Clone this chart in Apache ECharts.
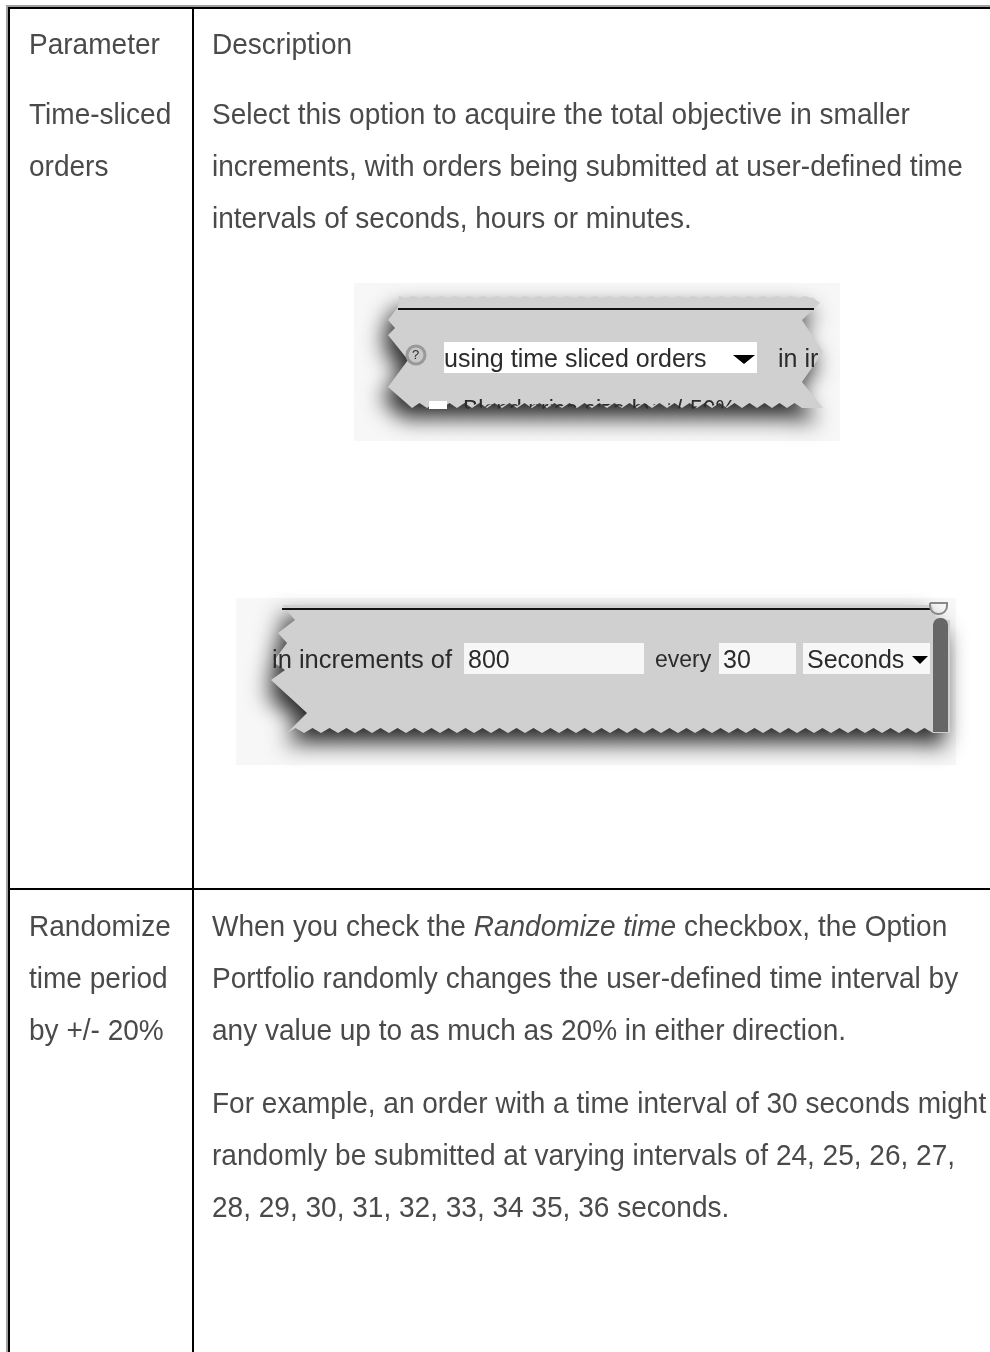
<!DOCTYPE html>
<html>
<head>
<meta charset="utf-8">
<style>
  html, body { margin: 0; padding: 0; background: #fff; }
  #main { width: 990px; height: 1352px; }
</style>
<script src="https://cdn.jsdelivr.net/npm/echarts@6/dist/echarts.min.js"></script>
</head>
<body>
<div id="main"></div>
<script>
const headerCells = ["Parameter", "Description"];
const timeSlicedLabel = ["Time-sliced", "orders"];
const timeSlicedText = [
  "Select this option to acquire the total objective in smaller",
  "increments, with orders being submitted at user-defined time",
  "intervals of seconds, hours or minutes.",
];
const randomizeLabel = ["Randomize", "time period", "by +/- 20%"];
const randomizeText = [
  "{n|When you check the }{i|Randomize time}{n| checkbox, the Option}",
  "Portfolio randomly changes the user-defined time interval by",
  "any value up to as much as 20% in either direction.",
];
const exampleText = [
  "For example, an order with a time interval of 30 seconds might",
  "randomly be submitted at varying intervals of 24, 25, 26, 27,",
  "28, 29, 30, 31, 32, 33, 34 35, 36 seconds.",
];
const cutOffRow = "Blend price size by +/-50%";

const FONT = '"Liberation Sans", Arial, sans-serif';
const BODY_FONT = "29.5px " + FONT;
const INK = "#4a4a4a";
const UI_INK = "#2b2b2b";
const TORN = "#d0d0d0";

const els = [];

function rect(x, y, w, h, fill) {
  els.push({ type: "rect", shape: { x: x, y: y, width: w, height: h }, style: { fill: fill } });
}

// body text in the picture is tall and narrow, so squeeze a larger font
function block(lines, x, y) {
  lines.forEach((line, i) => {
    els.push({
      type: "text",
      x: x,
      y: y + i * 52,
      scaleX: 0.95,
      style: {
        text: line,
        fill: INK,
        font: BODY_FONT,
        verticalAlign: "middle",
        rich: {
          n: { fill: INK, font: BODY_FONT },
          i: { fill: INK, font: "italic " + BODY_FONT },
        },
      },
    });
  });
}

function uiText(str, x, y, size) {
  els.push({
    type: "text",
    x: x,
    y: y,
    style: { text: str, fill: UI_INK, font: size + "px " + FONT, verticalAlign: "middle" },
  });
}

// jagged edge between two x positions
function teeth(x0, x1, y, period, depth) {
  const pts = [];
  const dir = x1 > x0 ? 1 : -1;
  for (let x = x0; (x1 - x) * dir > 0; x += (period * dir) / 2) {
    pts.push([x, pts.length % 2 ? y - depth : y]);
  }
  return pts;
}

function torn(points) {
  els.push({
    type: "polygon",
    shape: { points: points },
    style: {
      fill: TORN,
      shadowColor: "rgba(0,0,0,0.85)",
      shadowBlur: 22,
      shadowOffsetX: -6,
      shadowOffsetY: 12,
    },
  });
}

function arrow(x, y, w, h) {
  els.push({
    type: "polygon",
    shape: { points: [[x, y], [x + w, y], [x + w / 2, y + h]] },
    style: { fill: "#000" },
  });
}

// --- first screenshot ---
rect(354, 283, 486, 158, "#f7f7f7");
torn(
  [[398, 307], [388, 320], [395, 328], [388, 335], [408, 360], [388, 387], [412, 408]]
    .concat(teeth(412, 808, 408, 15, 5))
    .concat([[823, 408], [802, 382], [823, 352], [802, 320], [820, 303], [812, 297]])
    .concat(teeth(812, 398, 298, 14, 2))
);
rect(398, 308, 416, 2, "#111");
rect(444, 342, 313, 31, "#fff");
uiText("using time sliced orders", 444, 360, 25);
arrow(733, 355, 22, 9);
uiText("in ir", 778, 360, 25);
els.push({
  type: "circle",
  shape: { cx: 416, cy: 355, r: 9 },
  style: { fill: "#c8c8c8", stroke: "#999", lineWidth: 3 },
});
uiText("?", 412, 355, 13);
rect(429, 401, 18, 8, "#fff");
uiText(cutOffRow, 463, 411, 23);

// --- second screenshot ---
rect(236, 598, 720, 167, "#f7f7f7");
torn(
  [[282, 605], [295, 620], [278, 633], [287, 643], [273, 662], [285, 670], [271, 680], [307, 713], [287, 733]]
    .concat(teeth(287, 935, 733, 17, 5))
    .concat([[950, 733], [950, 620], [936, 620], [932, 605]])
);
rect(282, 608, 648, 2, "#111");
els.push({
  type: "rect",
  shape: { x: 933, y: 618, width: 15, height: 114, r: [7, 7, 0, 0] },
  style: { fill: "#666" },
});
els.push({
  type: "rect",
  shape: { x: 930, y: 603, width: 17, height: 11, r: [0, 0, 8, 8] },
  style: { fill: "none", stroke: "#888", lineWidth: 2 },
});
rect(464, 643, 180, 31, "#f7f7f7");
rect(719, 643, 77, 31, "#f7f7f7");
rect(803, 643, 127, 31, "#f7f7f7");
uiText("in increments of", 272, 661, 25.5);
uiText("800", 468, 661, 25);
uiText("every", 655, 661, 23);
uiText("30", 723, 661, 25);
uiText("Seconds", 807, 661, 25);
arrow(912, 656, 16, 8);

// --- text ---
block([headerCells[0]], 29, 46);
block([headerCells[1]], 212, 46);
block(timeSlicedLabel, 29, 116);
block(timeSlicedText, 212, 116);
block(randomizeLabel, 29, 928);
block(randomizeText, 212, 928);
block(exampleText, 212, 1105);

// --- table rules ---
rect(6, 5, 984, 2, "#a0a0a0");
rect(6, 5, 2, 1347, "#a0a0a0");
rect(8, 7, 982, 2, "#000");
rect(8, 7, 2, 1345, "#000");
rect(192, 7, 2, 1345, "#000");
rect(8, 888, 982, 2, "#000");

const chart = echarts.init(document.getElementById("main"));
chart.setOption({
  backgroundColor: "#fff",
  animation: false,
  graphic: { elements: els },
});

// the row under the tear only shows its top half, clip the text along the teeth
const zr = chart.getZr();
zr.storage.traverse((el) => {
  if (el.type === "text" && el.style && el.style.text === cutOffRow) {
    el.setClipPath(
      new echarts.graphic.Polygon({
        shape: { points: [[-35, -30], [320, -30]].concat(teeth(320, -35, -2, 15, 5)) },
      })
    );
  }
});
zr.refresh();
</script>
</body>
</html>
